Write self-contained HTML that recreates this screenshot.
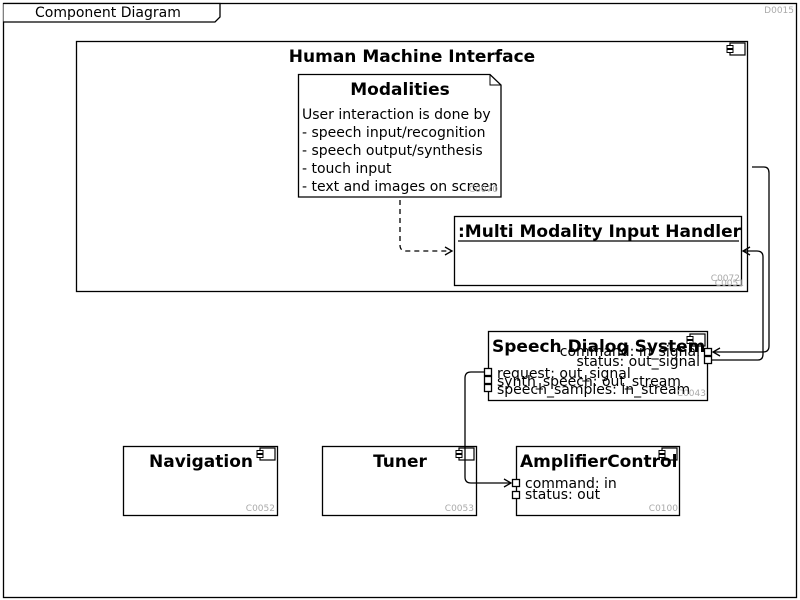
<!DOCTYPE html>
<html><head><style>body{margin:0;background:#fff}svg{display:block}text{font-family:"DejaVu Sans","Liberation Sans",sans-serif}</style></head><body>
<svg width="800" height="600" xmlns="http://www.w3.org/2000/svg">
<defs>
<g id="ci"><rect x="3" y="0" width="15" height="12" fill="#fff" stroke="#000" stroke-width="1.2"/><rect x="0" y="2.5" width="6" height="3" fill="#fff" stroke="#000"/><rect x="0" y="6.5" width="6" height="3" fill="#fff" stroke="#000"/></g>
</defs>
<rect x="3.5" y="3.5" width="793" height="594" fill="#fff" stroke="#000" stroke-width="1.3"/>
<path d="M3.5 3.5H220V17L215 22H3.5" fill="#fff" stroke="#000" stroke-width="1.3"/>
<text x="35" y="17" font-size="14">Component Diagram</text>
<text x="794" y="13" font-size="9" fill="#aaa" text-anchor="end">D0015</text>

<rect x="76.5" y="41.5" width="671" height="250" fill="#fff" stroke="#000" stroke-width="1.3"/>
<use href="#ci" x="727" y="43"/>
<text x="412" y="62" font-size="17" font-weight="bold" text-anchor="middle">Human Machine Interface</text>

<path d="M298.5 74.5H490L501 85V197H298.5Z" fill="#fff" stroke="#000" stroke-width="1.3"/>
<path d="M490 74.5V85H501" fill="none" stroke="#000"/>
<text x="400" y="95" font-size="17" font-weight="bold" text-anchor="middle">Modalities</text>
<g font-size="14"><text x="302" y="119">User interaction is done by</text><text x="302" y="137">- speech input/recognition</text><text x="302" y="155">- speech output/synthesis</text><text x="302" y="173">- touch input</text><text x="302" y="191">- text and images on screen</text></g>
<text x="498" y="192" font-size="9" fill="#aaa" text-anchor="end">C0070</text>

<rect x="454.5" y="216.5" width="287" height="69" fill="#fff" stroke="#000" stroke-width="1.3"/>
<text x="458" y="237" font-size="17" font-weight="bold">:Multi Modality Input Handler</text>
<line x1="458" y1="241" x2="739" y2="241" stroke="#000" stroke-width="1.3"/>
<text x="740" y="281" font-size="9" fill="#aaa" text-anchor="end">C0072</text>
<text x="744" y="286" font-size="9" fill="#aaa" text-anchor="end">C0051</text>

<path d="M400 200V245Q400 251 406 251H451" fill="none" stroke="#000" stroke-width="1.3" stroke-dasharray="5,4"/>
<path d="M445 247L452 251L445 255" fill="none" stroke="#000" stroke-width="1.3"/>

<rect x="488.5" y="331.5" width="219" height="69" fill="#fff" stroke="#000" stroke-width="1.3"/>
<use href="#ci" x="687" y="334"/>
<text x="492" y="352" font-size="17" font-weight="bold">Speech Dialog System</text>
<g font-size="14"><text x="700" y="356" text-anchor="end">command: in_signal</text><text x="700" y="366" text-anchor="end">status: out_signal</text>
<text x="497" y="378">request: out_signal</text><text x="497" y="386">synth_speech: out_stream</text><text x="497" y="394">speech_samples: in_stream</text></g>
<text x="706" y="396" font-size="9" fill="#aaa" text-anchor="end">C0043</text>
<g fill="#fff" stroke="#000" stroke-width="1.3"><rect x="704.5" y="348.5" width="7" height="7"/><rect x="704.5" y="356.5" width="7" height="7"/><rect x="484.5" y="368.5" width="7" height="7"/><rect x="484.5" y="376.5" width="7" height="7"/><rect x="484.5" y="384.5" width="7" height="7"/></g>

<rect x="123.5" y="446.5" width="154" height="69" fill="#fff" stroke="#000" stroke-width="1.3"/>
<use href="#ci" x="257" y="448"/>
<text x="201" y="467" font-size="17" font-weight="bold" text-anchor="middle">Navigation</text>
<text x="275" y="511" font-size="9" fill="#aaa" text-anchor="end">C0052</text>

<rect x="322.5" y="446.5" width="154" height="69" fill="#fff" stroke="#000" stroke-width="1.3"/>
<use href="#ci" x="456" y="448"/>
<text x="400" y="467" font-size="17" font-weight="bold" text-anchor="middle">Tuner</text>
<text x="474" y="511" font-size="9" fill="#aaa" text-anchor="end">C0053</text>

<rect x="516.5" y="446.5" width="163" height="69" fill="#fff" stroke="#000" stroke-width="1.3"/>
<use href="#ci" x="659" y="448"/>
<text x="520" y="467" font-size="17" font-weight="bold">AmplifierControl</text>
<g font-size="14"><text x="525" y="488">command: in</text><text x="525" y="499">status: out</text></g>
<text x="678" y="511" font-size="9" fill="#aaa" text-anchor="end">C0100</text>
<g fill="#fff" stroke="#000" stroke-width="1.3"><rect x="512.5" y="479.5" width="7" height="7"/><rect x="512.5" y="491.5" width="7" height="7"/></g>

<path d="M752 167H764Q769 167 769 173V346Q769 352 763 352H713" fill="none" stroke="#000" stroke-width="1.3"/>
<path d="M720 348L713 352L720 356" fill="none" stroke="#000" stroke-width="1.3"/>
<path d="M712 360H758Q763 360 763 354V257Q763 251 757 251H743" fill="none" stroke="#000" stroke-width="1.3"/>
<path d="M750 247L743 251L750 255" fill="none" stroke="#000" stroke-width="1.3"/>
<path d="M484 372H471Q465 372 465 378V477Q465 483 471 483H511" fill="none" stroke="#000" stroke-width="1.3"/>
<path d="M504 479L511 483L504 487" fill="none" stroke="#000" stroke-width="1.3"/>
</svg>
</body></html>
